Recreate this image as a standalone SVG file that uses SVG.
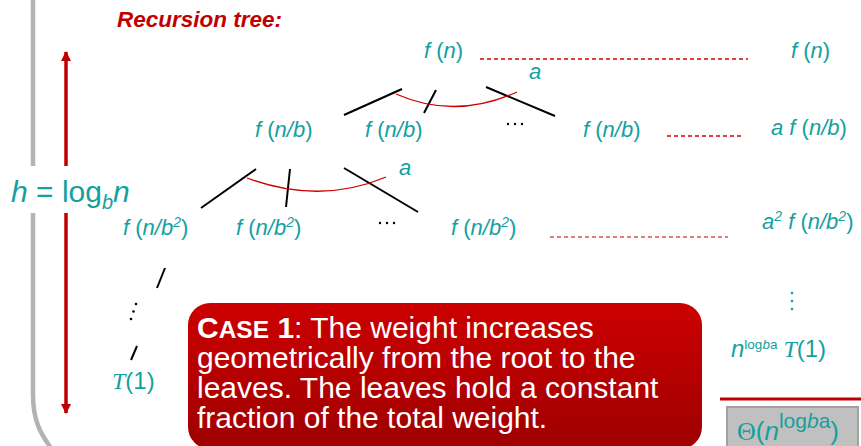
<svg xmlns="http://www.w3.org/2000/svg" width="861" height="446" viewBox="0 0 861 446">
<defs>
<linearGradient id="caseGrad" x1="0" y1="0" x2="0" y2="1">
<stop offset="0" stop-color="#cc0000"/>
<stop offset="1" stop-color="#9e0000"/>
</linearGradient>
<marker id="arrowHead" viewBox="0 0 10 10" refX="9" refY="5" markerWidth="3" markerHeight="3" orient="auto-start-reverse" markerUnits="strokeWidth">
<path d="M0,0 L10,5 L0,10 Z" fill="#c00000"/>
</marker>
</defs>
<style>
.lbl{font-family:"Liberation Sans",Arial,sans-serif;font-size:22px;fill:#14a0a0}
.it{font-style:italic}
.sup{font-size:14px}
.serif{font-family:"Liberation Serif","Times New Roman",serif}
.edge{stroke:#000;stroke-width:2;fill:none}
.arc{stroke:#cc0000;stroke-width:1.3;fill:none}
.dash{stroke:#d40000;stroke-width:1.3;stroke-dasharray:4 3;fill:none}
.dot{fill:#000}
.tdot{fill:#14a0a0}
.case{font-family:"Liberation Sans",Arial,sans-serif;font-size:30px;fill:#fff}
</style>

<!-- frame bracket -->
<path d="M33,0 V395 C33,420 40,434 54,452" stroke="#b3b3b3" stroke-width="4.5" fill="none"/>

<!-- height arrow -->
<line x1="66" y1="52" x2="66" y2="413" stroke="#c00000" stroke-width="3.5" marker-start="url(#arrowHead)" marker-end="url(#arrowHead)"/>

<!-- height label -->
<g id="height-label">
<rect x="8" y="166" width="132" height="47" fill="#fff"/>
<text x="11" y="202" class="lbl" style="font-size:30px"><tspan class="it">h</tspan> = log<tspan class="it" style="font-size:20px" dy="7">b</tspan><tspan class="it" dy="-7">n</tspan></text>
</g>

<text x="117" y="27" style="font-family:'Liberation Sans',Arial,sans-serif;font-size:22.5px;font-weight:bold;font-style:italic;fill:#c00000">Recursion tree:</text>

<!-- connectors -->
<g id="connectors">
<line class="edge" x1="402" y1="89" x2="344" y2="115"/>
<line class="edge" x1="436" y1="90" x2="424" y2="113"/>
<line class="edge" x1="486" y1="87" x2="555" y2="116"/>
<path class="arc" d="M396,94 Q455,120 517,92"/>
<line class="edge" x1="256" y1="169" x2="201" y2="208"/>
<line class="edge" x1="290" y1="169" x2="286" y2="207"/>
<line class="edge" x1="344" y1="168" x2="418" y2="212"/>
<path class="arc" d="M247,178 Q320,205 386,177"/>
<line class="edge" x1="165" y1="268" x2="157" y2="288"/>
<line class="edge" x1="137" y1="346" x2="131" y2="360"/>
<line class="dash" x1="480" y1="59" x2="748" y2="59"/>
<line class="dash" x1="667" y1="136" x2="743" y2="136"/>
<line class="dash" x1="550" y1="237" x2="728" y2="237" style="stroke:#d95050"/>
<line x1="720" y1="399" x2="861" y2="399" stroke="#c00000" stroke-width="3"/>
</g>

<!-- root -->
<g id="node-root"><text x="424" y="58" class="lbl"><tspan class="it">f</tspan> (<tspan class="it">n</tspan>)</text></g>
<g id="label-a1"><text x="529" y="79" class="lbl it">a</text></g>

<!-- level 1 -->
<g id="node-l1-1"><text x="255" y="137" class="lbl"><tspan class="it">f</tspan> (<tspan class="it">n/b</tspan>)</text></g>
<g id="node-l1-2"><text x="365" y="137" class="lbl"><tspan class="it">f</tspan> (<tspan class="it">n/b</tspan>)</text></g>
<g id="dots-l1"><circle class="dot" cx="508" cy="124" r="1.2"/><circle class="dot" cx="515" cy="124" r="1.2"/><circle class="dot" cx="522" cy="124" r="1.2"/></g>
<g id="node-l1-3"><text x="583" y="137" class="lbl"><tspan class="it">f</tspan> (<tspan class="it">n/b</tspan>)</text></g>
<g id="label-a2"><text x="399" y="175" class="lbl it">a</text></g>

<!-- level 2 -->
<g id="node-l2-1"><text x="123" y="235" class="lbl"><tspan class="it">f</tspan> (<tspan class="it">n/b<tspan class="sup" dy="-8">2</tspan></tspan><tspan dy="8">)</tspan></text></g>
<g id="node-l2-2"><text x="236" y="235" class="lbl"><tspan class="it">f</tspan> (<tspan class="it">n/b<tspan class="sup" dy="-8">2</tspan></tspan><tspan dy="8">)</tspan></text></g>
<g id="dots-l2"><circle class="dot" cx="380" cy="223" r="1.2"/><circle class="dot" cx="387" cy="223" r="1.2"/><circle class="dot" cx="394" cy="223" r="1.2"/></g>
<g id="node-l2-3"><text x="451" y="235" class="lbl"><tspan class="it">f</tspan> (<tspan class="it">n/b<tspan class="sup" dy="-8">2</tspan></tspan><tspan dy="8">)</tspan></text></g>

<!-- lower chain -->
<g id="dots-chain"><circle class="dot" cx="136" cy="304" r="1.3"/><circle class="dot" cx="133.5" cy="311.5" r="1.3"/><circle class="dot" cx="131" cy="319" r="1.3"/></g>
<g id="node-leaf"><text x="112" y="389" class="lbl" style="font-size:24px"><tspan class="serif it">T</tspan>(1)</text></g>

<!-- right column -->
<g id="sum-0"><text x="791" y="58" class="lbl"><tspan class="it">f</tspan> (<tspan class="it">n</tspan>)</text></g>
<g id="sum-1"><text x="771" y="135" class="lbl"><tspan class="it">a f</tspan> (<tspan class="it">n/b</tspan>)</text></g>
<g id="sum-2"><text x="762" y="229" class="lbl"><tspan class="it">a<tspan class="sup" dy="-8">2</tspan></tspan><tspan dy="8"> </tspan><tspan class="it">f</tspan> (<tspan class="it">n/b<tspan class="sup" dy="-8">2</tspan></tspan><tspan dy="8">)</tspan></text></g>
<g id="sum-dots"><circle class="tdot" cx="792" cy="293" r="1.3"/><circle class="tdot" cx="792" cy="301" r="1.3"/><circle class="tdot" cx="792" cy="309" r="1.3"/></g>
<g id="sum-leaves"><text x="731" y="357" class="lbl" style="font-size:24px"><tspan class="it">n</tspan><tspan style="font-size:13.5px" dy="-8">log<tspan class="it">b</tspan>a</tspan><tspan dy="8" class="serif it"> T</tspan>(1)</text></g>

<!-- total -->
<g id="total">
<rect x="727" y="407" width="131" height="50" fill="#c0c0c0" stroke="#a0a0a0" stroke-width="2"/>
<text x="737" y="440" class="lbl" style="font-size:26px"><tspan class="serif">Θ</tspan>(<tspan class="it">n</tspan><tspan style="font-size:21px" dy="-12">log<tspan class="it">b</tspan>a</tspan><tspan dy="12">)</tspan></text>
</g>

<!-- case box -->
<g id="case-box">
<rect x="188" y="303" width="514" height="146" rx="22" fill="url(#caseGrad)"/>
<text class="case" x="197" y="338"><tspan font-weight="bold">C<tspan style="font-size:24.5px">ASE</tspan> 1</tspan>: The weight increases</text>
<text class="case" x="197" y="368">geometrically from the root to the</text>
<text class="case" x="197" y="398">leaves. The leaves hold a constant</text>
<text class="case" x="197" y="428">fraction of the total weight.</text>
</g>
</svg>
